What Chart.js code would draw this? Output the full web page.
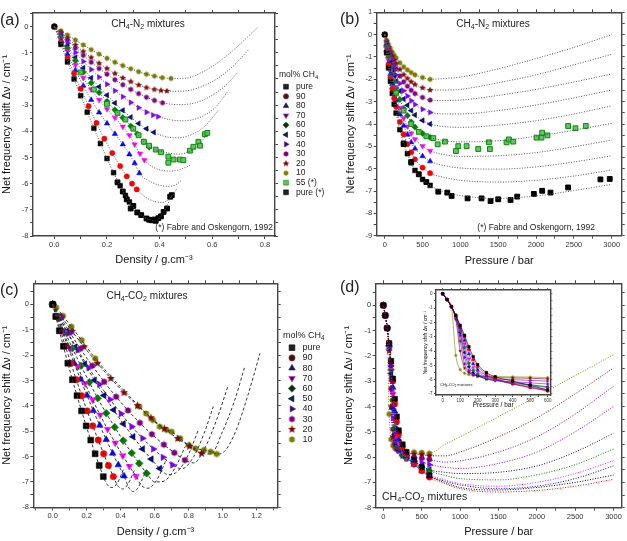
<!DOCTYPE html>
<html>
<head>
<meta charset="utf-8">
<script src="https://cdn.jsdelivr.net/npm/chart.js@4/dist/chart.umd.min.js"></script>
<style>
body { margin:0; background:#fff; width:627px; height:541px; position:relative; overflow:hidden; font-family:"Liberation Sans", Arial, sans-serif; }
canvas { position:absolute; }
.t { position:absolute; white-space:nowrap; line-height:1; color:#222; }
sub { font-size:70%; vertical-align:-0.25em; line-height:0; }
</style>
</head>
<body>
<canvas id="ca" width="340" height="269" style="left:0;top:0"></canvas>
<canvas id="cb" width="283" height="270" style="left:344px;top:0"></canvas>
<canvas id="cc" width="340" height="271" style="left:0;top:270px"></canvas>
<canvas id="cd" width="285" height="271" style="left:342px;top:270px"></canvas>
<canvas id="ce" width="130" height="125" style="left:423px;top:286px"></canvas>

<div class="t" style="left:0;top:12px;font-size:16px">(a)</div>
<div class="t" style="left:340px;top:11px;font-size:16px">(b)</div>
<div class="t" style="left:0;top:282px;font-size:16px">(c)</div>
<div class="t" style="left:340px;top:279px;font-size:16px">(d)</div>
<div class="t" style="left:148px;top:19px;font-size:10px;transform:translateX(-50%)">CH<sub>4</sub>-N<sub>2</sub> mixtures</div>
<div class="t" style="left:493px;top:19px;font-size:10px;transform:translateX(-50%)">CH<sub>4</sub>-N<sub>2</sub> mixtures</div>
<div class="t" style="left:147px;top:291px;font-size:10px;transform:translateX(-50%)">CH<sub>4</sub>-CO<sub>2</sub> mixtures</div>
<div class="t" style="left:382px;top:491px;font-size:10.5px">CH<sub>4</sub>-CO<sub>2</sub> mixtures</div>
<div class="t" style="left:273px;top:223px;font-size:8.5px;transform:translateX(-100%)">(*) Fabre and Oskengorn, 1992</div>
<div class="t" style="left:595px;top:223px;font-size:8.5px;transform:translateX(-100%)">(*) Fabre and Oskengorn, 1992</div>
<div class="t" style="left:440px;top:383px;font-size:4px">CH<sub>4</sub>-CO<sub>2</sub> mixtures</div>

<script>
const FONT = '"Liberation Sans", Arial, sans-serif';
Chart.defaults.font.family = FONT;
Chart.defaults.color = '#333';

// series: pure CH4 then mol% CH4
const mixLabels = ['pure', '90', '80', '70', '60', '50', '40', '30', '20', '10'];
const mixColors = ['#000000', '#ff0000', '#0000ff', '#ff00ff', '#008000', '#000080', '#8000ff', '#800080', '#800000', '#808000'];
const mixShapes = ['rect', 'circle', 'triangle', 'triangleDown', 'rectRot', 'triangleLeft', 'triangleRight', 'hex', 'star', 'hex'];

// ---------- (a) CH4-N2, shift vs density [density, shift] ----------
const aPure = [[0,0],[0.025,-0.68],[0.05,-1.35],[0.075,-2.0],[0.1,-2.64],[0.125,-3.27],[0.15,-3.88],[0.175,-4.47],[0.2,-5.04],[0.225,-5.58],[0.25,-6.08],[0.27,-6.45],[0.285,-6.7]];
const a90 = [[0,0],[0.025,-0.6],[0.05,-1.2],[0.075,-1.79],[0.1,-2.37],[0.13,-3.04],[0.16,-3.68],[0.19,-4.28],[0.22,-4.83],[0.25,-5.33],[0.275,-5.72],[0.295,-6.0],[0.313,-6.22]];
const a80 = [[0,0],[0.025,-0.53],[0.05,-1.06],[0.08,-1.67],[0.11,-2.26],[0.14,-2.8],[0.17,-3.28],[0.2,-3.7],[0.23,-4.1],[0.26,-4.5],[0.285,-4.88],[0.305,-5.22],[0.323,-5.6]];
const a70 = [[0,0],[0.025,-0.47],[0.05,-0.93],[0.08,-1.46],[0.11,-1.96],[0.14,-2.4],[0.17,-2.8],[0.2,-3.15],[0.23,-3.48],[0.26,-3.82],[0.285,-4.15],[0.305,-4.5],[0.325,-4.85],[0.342,-5.1]];
const a60 = [[0,0],[0.025,-0.42],[0.05,-0.83],[0.08,-1.3],[0.11,-1.74],[0.14,-2.15],[0.17,-2.52],[0.2,-2.86],[0.23,-3.18],[0.26,-3.48],[0.29,-3.8],[0.315,-4.1],[0.34,-4.4],[0.36,-4.6]];
const a50 = [[0,0],[0.025,-0.38],[0.05,-0.75],[0.08,-1.18],[0.11,-1.58],[0.14,-1.96],[0.17,-2.3],[0.2,-2.62],[0.23,-2.92],[0.26,-3.2],[0.29,-3.46],[0.32,-3.7],[0.35,-3.9],[0.378,-4.04]];
const a40 = [[0,0],[0.025,-0.32],[0.05,-0.63],[0.08,-0.99],[0.11,-1.33],[0.14,-1.64],[0.17,-1.93],[0.2,-2.2],[0.23,-2.45],[0.26,-2.68],[0.29,-2.9],[0.32,-3.1],[0.35,-3.27],[0.375,-3.38],[0.394,-3.44]];
const a30 = [[0,0],[0.025,-0.26],[0.05,-0.52],[0.08,-0.82],[0.11,-1.1],[0.14,-1.36],[0.17,-1.6],[0.2,-1.82],[0.23,-2.03],[0.26,-2.22],[0.29,-2.4],[0.32,-2.56],[0.35,-2.7],[0.38,-2.82],[0.411,-2.91]];
const a20 = [[0,0],[0.025,-0.22],[0.05,-0.44],[0.08,-0.7],[0.11,-0.95],[0.14,-1.18],[0.17,-1.4],[0.2,-1.6],[0.23,-1.79],[0.26,-1.96],[0.29,-2.1],[0.32,-2.23],[0.35,-2.33],[0.38,-2.4],[0.405,-2.44],[0.427,-2.46]];
const a10 = [[0,0],[0.025,-0.16],[0.05,-0.32],[0.08,-0.51],[0.11,-0.7],[0.14,-0.88],[0.17,-1.05],[0.2,-1.21],[0.23,-1.36],[0.26,-1.49],[0.29,-1.61],[0.32,-1.72],[0.35,-1.82],[0.38,-1.89],[0.41,-1.95],[0.443,-1.98]];
// fitted curves beyond the data
const aTailPure = [[0.33,-7.2],[0.385,-7.42],[0.42,-7.0],[0.446,-6.44]];
const aTail90 = [[0.36,-6.6],[0.41,-6.72],[0.44,-6.55],[0.465,-6.2]];
const aTail80 = [[0.37,-5.95],[0.43,-6.1],[0.46,-6.05],[0.48,-5.9]];
const aTail70 = [[0.38,-5.4],[0.44,-5.52],[0.48,-5.45],[0.515,-5.3]];
const aTail60 = [[0.42,-4.8],[0.47,-4.87],[0.52,-4.74],[0.555,-4.45],[0.585,-3.98]];
const aTail50 = [[0.42,-4.2],[0.47,-4.25],[0.52,-4.13],[0.57,-3.82],[0.623,-3.19]];
const aTail40 = [[0.44,-3.56],[0.49,-3.6],[0.55,-3.48],[0.61,-3.1],[0.661,-2.45]];
const aTail30 = [[0.47,-2.98],[0.54,-2.9],[0.6,-2.62],[0.65,-2.25],[0.696,-1.76]];
const aTail20 = [[0.48,-2.47],[0.55,-2.33],[0.62,-1.98],[0.68,-1.5],[0.737,-0.89]];
const aTail10 = [[0.5,-1.97],[0.553,-1.78],[0.6,-1.52],[0.68,-0.9],[0.775,0.0]];
// Fabre and Oskengorn, 1992
const aFab55 = [[0.1,-1.75],[0.15,-2.4],[0.2,-2.95],[0.24,-3.3],[0.27,-3.55],[0.3,-3.9],[0.32,-4.15],[0.34,-4.4],[0.36,-4.55],[0.385,-4.7],[0.405,-4.8],[0.433,-4.97],[0.433,-5.2],[0.453,-5.08],[0.477,-5.08],[0.49,-5.1],[0.515,-4.74],[0.528,-4.59],[0.547,-4.4],[0.553,-4.55],[0.572,-4.11],[0.581,-4.06]];
const aFabPure = [[0.24,-5.95],[0.26,-6.3],[0.275,-6.6],[0.29,-6.95],[0.3,-6.85],[0.315,-7.1],[0.33,-7.2],[0.35,-7.33],[0.36,-7.38],[0.37,-7.4],[0.38,-7.37],[0.385,-7.42],[0.395,-7.32],[0.405,-7.25],[0.415,-7.08],[0.428,-6.95],[0.44,-6.5],[0.446,-6.44]];

// ---------- (b) CH4-N2, shift vs pressure ----------
const bP = [0, 25, 50, 75, 100, 125, 150, 200, 250, 300, 350, 400, 500, 600];
const bPure = [0,-0.81,-1.49,-2.09,-2.63,-3.11,-3.51,-4.25,-4.86,-5.33,-5.74,-6.08,-6.48,-6.75];
const b90 = [0,-0.74,-1.36,-1.92,-2.42,-2.85,-3.22,-3.91,-4.46,-4.90,-5.27,-5.58,-5.95,-6.2];
const b80 = [0,-0.68,-1.25,-1.76,-2.21,-2.61,-2.95,-3.57,-4.08,-4.48,-4.82,-5.10,-5.44,-5.67];
const b70 = [0,-0.62,-1.14,-1.61,-2.03,-2.39,-2.70,-3.28,-3.74,-4.11,-4.42,-4.68,-4.99,-5.2];
const b60 = [0,-0.55,-1.01,-1.43,-1.79,-2.12,-2.39,-2.90,-3.31,-3.63,-3.91,-4.14,-4.42,-4.6];
const b50 = [0,-0.48,-0.88,-1.24,-1.56,-1.84,-2.08,-2.52,-2.88,-3.16,-3.40,-3.60,-3.84,-4.0];
const b40 = [0,-0.42,-0.77,-1.08,-1.36,-1.60,-1.81,-2.19,-2.51,-2.75,-2.96,-3.13,-3.34,-3.48];
const b30 = [0,-0.35,-0.64,-0.91,-1.14,-1.35,-1.52,-1.85,-2.11,-2.31,-2.49,-2.64,-2.81,-2.93];
const b20 = [0,-0.30,-0.55,-0.77,-0.97,-1.14,-1.29,-1.56,-1.79,-1.96,-2.11,-2.23,-2.38,-2.48];
const b10 = [0,-0.24,-0.44,-0.62,-0.78,-0.92,-1.04,-1.26,-1.44,-1.58,-1.70,-1.80,-1.92,-2.0];
const bTailP = [800, 1000, 1500, 2000, 2500, 3000];
const bTailPure = [-7.05,-7.2,-7.33,-7.22,-6.98,-6.7];
const bTail90 = [-6.4,-6.52,-6.6,-6.52,-6.33,-6.06];
const bTail80 = [-5.87,-5.97,-6.02,-5.92,-5.7,-5.42];
const bTail70 = [-5.38,-5.45,-5.42,-5.28,-5.02,-4.72];
const bTail60 = [-4.75,-4.8,-4.75,-4.55,-4.28,-3.97];
const bTail50 = [-4.12,-4.15,-4.05,-3.85,-3.55,-3.19];
const bTail40 = [-3.55,-3.55,-3.4,-3.15,-2.83,-2.48];
const bTail30 = [-2.95,-2.93,-2.72,-2.45,-2.12,-1.76];
const bTail20 = [-2.48,-2.45,-2.15,-1.8,-1.35,-0.88];
const bTail10 = [-1.96,-1.9,-1.53,-1.07,-0.57,0.0];
const bFab55 = [[150,-2.6],[250,-3.4],[350,-4.0],[450,-4.35],[550,-4.55],[642,-4.63],[700,-4.91],[796,-4.79],[941,-5.21],[972,-4.99],[1082,-4.99],[1236,-5.12],[1377,-4.82],[1390,-5.12],[1610,-4.82],[1641,-4.69],[1698,-4.79],[2006,-4.61],[2072,-4.61],[2081,-4.39],[2151,-4.51],[2424,-4.09],[2521,-4.19],[2657,-4.09]];
const bFabPure = [[250,-4.9],[350,-5.7],[450,-6.25],[550,-6.6],[708,-7.03],[827,-7.07],[884,-7.22],[1095,-7.33],[1280,-7.33],[1399,-7.45],[1500,-7.37],[1663,-7.4],[1751,-7.25],[1971,-7.13],[2081,-6.99],[2191,-7.07],[2424,-6.84],[2851,-6.48],[2974,-6.46]];

// ---------- (c) CH4-CO2, shift vs density ----------
const cPureX = [0,0.018,0.039,0.063,0.089,0.116,0.143,0.170,0.197,0.224,0.250,0.274,0.298];
const cPureY = [0,-0.48,-1.04,-1.65,-2.32,-2.97,-3.60,-4.20,-4.79,-5.35,-5.89,-6.35,-6.79];
const c90X = [0,0.021,0.046,0.075,0.107,0.139,0.171,0.203,0.236,0.268,0.300,0.328,0.357];
const c90Y = [0,-0.48,-1.04,-1.65,-2.32,-2.97,-3.60,-4.20,-4.79,-5.35,-5.89,-6.35,-6.79];
const c80X = [0,0.025,0.055,0.088,0.126,0.164,0.202,0.239,0.277,0.315,0.353,0.386,0.42];
const c80Y = [0,-0.48,-1.03,-1.65,-2.32,-2.96,-3.59,-4.19,-4.77,-5.33,-5.87,-6.33,-6.77];
const c70X = [0,0.029,0.064,0.103,0.147,0.191,0.235,0.279,0.323,0.368,0.412,0.451,0.49];
const c70Y = [0,-0.52,-1.11,-1.76,-2.46,-3.12,-3.76,-4.36,-4.92,-5.46,-5.96,-6.38,-6.77];
const c60X = [0,0.033,0.072,0.116,0.166,0.216,0.265,0.315,0.365,0.415,0.465,0.509,0.553];
const c60Y = [0,-0.51,-1.09,-1.73,-2.42,-3.07,-3.70,-4.29,-4.84,-5.37,-5.86,-6.27,-6.66];
const c50X = [0,0.038,0.082,0.132,0.189,0.246,0.302,0.359,0.416,0.473,0.529,0.580,0.63];
const c50Y = [0,-0.50,-1.06,-1.68,-2.35,-2.99,-3.59,-4.16,-4.71,-5.22,-5.70,-6.10,-6.47];
const c40X = [0,0.042,0.092,0.148,0.212,0.275,0.338,0.402,0.465,0.529,0.592,0.649,0.705];
const c40Y = [0,-0.54,-1.15,-1.80,-2.50,-3.15,-3.75,-4.31,-4.82,-5.28,-5.70,-6.03,-6.33];
const c30X = [0,0.047,0.101,0.163,0.233,0.303,0.373,0.443,0.513,0.584,0.654,0.716,0.778];
const c30Y = [0,-0.52,-1.11,-1.75,-2.42,-3.05,-3.64,-4.18,-4.67,-5.12,-5.53,-5.85,-6.14];
const c20X = [0,0.053,0.114,0.184,0.263,0.342,0.420,0.499,0.578,0.657,0.736,0.806,0.876];
const c20Y = [0,-0.50,-1.06,-1.67,-2.32,-2.92,-3.48,-3.99,-4.47,-4.90,-5.29,-5.59,-5.87];
const c10X = [0,0.02,0.06,0.11,0.17,0.25,0.51,0.55,0.59,0.63,0.67,0.7,0.75,0.8,0.84,0.89,0.93,0.965];
const c10Y = [0,-0.12,-0.45,-0.88,-1.41,-2.13,-4.03,-4.3,-4.56,-4.82,-4.95,-5.02,-5.28,-5.55,-5.68,-5.74,-5.81,-5.9];
const cTailPure = [[0.32,-7.1],[0.35,-7.22],[0.38,-7.05],[0.42,-6.45]];
const cTail90 = [[0.38,-7.12],[0.41,-7.28],[0.44,-7.12],[0.48,-6.55]];
const cTail80 = [[0.45,-7.25],[0.475,-7.38],[0.5,-7.25],[0.55,-6.55]];
const cTail70 = [[0.52,-7.12],[0.56,-7.25],[0.61,-6.95],[0.67,-6.1]];
const cTail60 = [[0.6,-7.0],[0.65,-6.98],[0.72,-6.45],[0.78,-5.6]];
const cTail50 = [[0.68,-6.72],[0.74,-6.55],[0.8,-5.9],[0.857,-4.95]];
const cTail40 = [[0.76,-6.48],[0.83,-6.0],[0.89,-5.1],[0.945,-4.03]];
const cTail30 = [[0.83,-6.25],[0.9,-5.6],[0.97,-4.45],[1.03,-3.25]];
const cTail20 = [[0.93,-5.9],[1.0,-5.0],[1.07,-3.8],[1.13,-2.46]];
const cTail10 = [[1.01,-5.8],[1.08,-4.95],[1.15,-3.55],[1.22,-1.93]];

// ---------- (d) CH4-CO2, shift vs pressure ----------
const dP = [0, 25, 50, 75, 100, 125, 150, 175, 200, 250, 300, 400, 500, 600];
const dPure = [0,-0.4,-0.9,-1.5,-2.2,-2.9,-3.7,-4.4,-4.95,-5.5,-5.8,-6.1,-6.4,-6.72];
const d90 = [0,-0.4,-0.9,-1.5,-2.25,-3.0,-3.9,-4.6,-5.1,-5.6,-5.9,-6.25,-6.55,-6.8];
const d80 = [0,-0.4,-0.9,-1.55,-2.35,-3.25,-4.2,-4.9,-5.3,-5.7,-5.95,-6.3,-6.55,-6.75];
const d70 = [0,-0.4,-0.9,-1.55,-2.45,-3.5,-4.55,-5.15,-5.45,-5.8,-6.0,-6.3,-6.5,-6.7];
const d60 = [0,-0.4,-0.9,-1.6,-2.55,-3.75,-4.85,-5.35,-5.6,-5.9,-6.05,-6.25,-6.4,-6.55];
const d50 = [0,-0.4,-0.9,-1.6,-2.7,-4.1,-5.1,-5.5,-5.7,-5.95,-6.05,-6.2,-6.35,-6.5];
const d40 = [0,-0.4,-0.9,-1.65,-2.9,-4.45,-5.35,-5.6,-5.75,-5.95,-6.05,-6.15,-6.22,-6.3];
const d30 = [0,-0.4,-0.9,-1.7,-3.3,-4.9,-5.45,-5.65,-5.75,-5.85,-5.95,-6.0,-6.05,-6.1];
const d20 = [0,-0.4,-0.9,-1.8,-4.0,-5.2,-5.5,-5.65,-5.72,-5.8,-5.85,-5.88,-5.9,-5.95];
const d10 = [0,-0.4,-0.9,-4.3,-5.3,-5.55,-5.65,-5.7,-5.72,-5.75,-5.78,-5.8,-5.82,-5.85];
const dTailP = [800, 1000, 1500, 2000, 2500, 3000];
const dTailPure = [-7.0,-7.2,-7.3,-7.2,-7.0,-6.71];
const dTail90 = [-7.05,-7.25,-7.38,-7.32,-7.15,-6.88];
const dTail80 = [-6.95,-7.1,-7.25,-7.15,-6.85,-6.35];
const dTail70 = [-6.9,-7.05,-7.15,-7.0,-6.65,-6.14];
const dTail60 = [-6.72,-6.85,-6.9,-6.7,-6.3,-5.68];
const dTail50 = [-6.6,-6.65,-6.6,-6.35,-5.8,-5.06];
const dTail40 = [-6.4,-6.45,-6.25,-5.8,-5.0,-4.0];
const dTail30 = [-6.2,-6.15,-5.8,-5.2,-4.3,-3.2];
const dTail20 = [-5.95,-5.8,-5.2,-4.45,-3.5,-2.48];
const dTail10 = [-5.5,-5.2,-4.4,-3.6,-2.78,-1.95];

// ---------- helpers ----------
const xy = (xs, ys) => xs.map((x, i) => ({x: x, y: ys[i]}));
const pr = arr => arr.map(p => ({x: p[0], y: p[1]}));

function makeImg(kind, r, color) {
    const s = Math.ceil(r * 2 + 2);
    const cv = document.createElement('canvas');
    cv.width = s; cv.height = s;
    const g = cv.getContext('2d');
    const c = s / 2;
    g.fillStyle = color;
    g.beginPath();
    if (kind === 'hex') {
        for (let k = 0; k < 6; k++) {
            const a = Math.PI / 3 * k + Math.PI / 6;
            g.lineTo(c + r * Math.cos(a), c + r * Math.sin(a));
        }
    } else {
        for (let k = 0; k < 10; k++) {
            const a = -Math.PI / 2 + Math.PI / 5 * k;
            const rr = k % 2 ? r * 0.45 : r;
            g.lineTo(c + rr * Math.cos(a), c + rr * Math.sin(a));
        }
    }
    g.closePath();
    g.fill();
    return cv;
}

function pointOpts(shape, r, color) {
    switch (shape) {
        case 'rect': return {style: 'rect', rot: 0, radius: r * 1.3};
        case 'circle': return {style: 'circle', rot: 0, radius: r};
        case 'triangle': return {style: 'triangle', rot: 0, radius: r * 1.2};
        case 'triangleDown': return {style: 'triangle', rot: 180, radius: r * 1.2};
        case 'triangleLeft': return {style: 'triangle', rot: 270, radius: r * 1.2};
        case 'triangleRight': return {style: 'triangle', rot: 90, radius: r * 1.2};
        case 'rectRot': return {style: 'rectRot', rot: 0, radius: r * 1.2};
        case 'hex': return {style: makeImg('hex', r * 1.05, color), rot: 0, radius: r};
        case 'star': return {style: makeImg('star', r * 1.35, color), rot: 0, radius: r};
    }
}

function marks(points, i, r, extra) {
    const p = pointOpts(mixShapes[i], r, mixColors[i]);
    return Object.assign({
        data: points, showLine: false,
        pointStyle: p.style, pointRotation: p.rot, pointRadius: p.radius,
        pointBackgroundColor: mixColors[i], pointBorderColor: mixColors[i], pointBorderWidth: 0.5
    }, extra || {});
}

function fitLine(points, color, dash, width) {
    return {
        data: points, showLine: true, pointRadius: 0, borderColor: color,
        borderWidth: width, borderDash: dash, cubicInterpolationMode: 'monotone', fill: false
    };
}

// tick marks every `step` from the first multiple above min (Chart.js would otherwise
// spread them evenly between min and max when the range is nearly a whole number of steps)
function stepTicks(min, max, step) {
    return s => {
        const t = [];
        for (let k = Math.ceil(min / step - 1e-9); k * step <= max + 1e-9; k++) {
            t.push({value: Math.round(k * step * 1e6) / 1e6});
        }
        s.ticks = t;
    };
}

function axes(c) {
    const grid = {drawOnChartArea: false, tickLength: c.tl, tickColor: '#444', tickWidth: 1};
    const border = {color: '#444', width: 1.4};
    const lab = (maj, fmt) => v => Math.abs(v / maj - Math.round(v / maj)) < 1e-6 ? fmt(v) : '';
    const tk = (maj, fmt) => ({
        autoSkip: false, maxRotation: 0, font: {size: c.tf}, color: '#333', padding: 1.5, callback: lab(maj, fmt)
    });
    return {
        x: {type: 'linear', position: 'bottom', min: c.x[0], max: c.x[1], grid: grid, border: border,
            ticks: tk(c.x[3], c.xf), afterBuildTicks: stepTicks(c.x[0], c.x[1], c.x[2]),
            title: {display: true, text: c.xt, font: {size: c.ttf}, color: '#111', padding: {top: 0, bottom: 2}},
            afterFit: s => { s.height = c.xh; }},
        x2: {type: 'linear', position: 'top', min: c.x[0], max: c.x[1], grid: grid, border: border,
            ticks: {display: false}, afterBuildTicks: stepTicks(c.x[0], c.x[1], c.x[2]),
            afterFit: s => { s.height = 0; }},
        y: {type: 'linear', position: 'left', min: c.y[0], max: c.y[1], grid: grid, border: border,
            ticks: tk(c.y[3], v => String(Math.round(v))), afterBuildTicks: stepTicks(c.y[0], c.y[1], c.y[2]),
            title: {display: true, text: c.yt, font: {size: c.tty || c.ttf}, color: '#111', padding: {top: 0, bottom: 0}},
            afterFit: s => { s.width = c.yw; }},
        y2: {type: 'linear', position: 'right', min: c.y[0], max: c.y[1], grid: grid, border: border,
            ticks: {display: false}, afterBuildTicks: stepTicks(c.y[0], c.y[1], c.y[2]),
            afterFit: s => { s.width = 0; }}
    };
}

const sideLegend = {
    id: 'sideLegend',
    afterDraw(chart, args, o) {
        if (!o || !o.items) return;
        const ctx = chart.ctx;
        ctx.save();
        ctx.textBaseline = 'middle';
        ctx.fillStyle = '#222';
        ctx.font = o.size + 'px ' + FONT;
        ctx.fillText('mol% CH', o.x, o.y);
        const w = ctx.measureText('mol% CH').width;
        ctx.font = (o.size * 0.7) + 'px ' + FONT;
        ctx.fillText('4', o.x + w, o.y + o.size * 0.3);
        ctx.font = o.size + 'px ' + FONT;
        o.items.forEach((it, i) => {
            const y = o.y0 + i * o.dy;
            const p = pointOpts(it.shape, o.r, it.color);
            ctx.fillStyle = it.fill || it.color;
            ctx.strokeStyle = it.color;
            ctx.lineWidth = 0.6;
            Chart.helpers.drawPoint(ctx, {pointStyle: p.style, rotation: p.rot, radius: p.radius, borderWidth: 0.6}, o.mx, y);
            ctx.fillStyle = '#222';
            ctx.fillText(it.label, o.tx, y);
        });
        ctx.restore();
    }
};

const insetBg = {
    id: 'insetBg',
    beforeDraw(chart, args, o) {
        if (!o || !o.on) return;
        const ctx = chart.ctx;
        ctx.save();
        ctx.fillStyle = '#fff';
        ctx.fillRect(0, 0, chart.width, chart.chartArea.bottom + 1);
        ctx.restore();
    }
};
Chart.register(sideLegend, insetBg);

function panel(id, datasets, ax, pad, plugins) {
    return new Chart(document.getElementById(id), {
        type: 'scatter',
        data: {datasets: datasets},
        options: {
            responsive: false, animation: false, events: [], devicePixelRatio: 1,
            layout: {autoPadding: false, padding: pad},
            scales: ax,
            plugins: Object.assign({legend: {display: false}, tooltip: {enabled: false}}, plugins || {})
        }
    });
}

const legendItems = mixLabels.map((l, i) => ({label: l, shape: mixShapes[i], color: mixColors[i]}));
const YT = 'Net frequency shift \u0394\u03bd / cm\u207b\u00b9';
const DOT = [1, 1.6];

// ---------- (a) ----------
const aData = [aPure, a90, a80, a70, a60, a50, a40, a30, a20, a10];
const aTails = [aTailPure, aTail90, aTail80, aTail70, aTail60, aTail50, aTail40, aTail30, aTail20, aTail10];
const aSets = aData.map((d, i) => fitLine(pr(d.concat(aTails[i])), '#555', DOT, 1))
    .concat([
        {data: pr(aFab55), pointStyle: 'rect', pointRadius: 3.4, pointBackgroundColor: '#66c266', pointBorderColor: '#0a8a0a', pointBorderWidth: 1},
        {data: pr(aFabPure), pointStyle: 'rect', pointRadius: 3.4, pointBackgroundColor: '#000', pointBorderColor: '#000'}
    ])
    .concat(aData.map((d, i) => marks(pr(d), i, 2.6)));
panel('ca', aSets, axes({
    x: [-0.081, 0.838, 0.1, 0.2], xf: v => v.toFixed(1), xt: 'Density / g.cm\u207b\u00b3',
    y: [-8, 0.52, 0.5, 1], yt: YT, tf: 7.5, ttf: 11, tl: 3, xh: 33, yw: 33
}), {left: 0, right: 65, top: 13, bottom: 0}, {
    sideLegend: {x: 279, y: 75, y0: 86.7, dy: 9.6, mx: 286, tx: 296, size: 8.5, r: 2.6,
        items: legendItems.concat([
            {label: '55 (*)', shape: 'rect', color: '#0a8a0a', fill: '#66c266'},
            {label: 'pure (*)', shape: 'rect', color: '#000000'}
        ])}
});

// ---------- (b) ----------
const bData = [bPure, b90, b80, b70, b60, b50, b40, b30, b20, b10];
const bTails = [bTailPure, bTail90, bTail80, bTail70, bTail60, bTail50, bTail40, bTail30, bTail20, bTail10];
const bSets = bData.map((d, i) => fitLine(xy(bP.concat(bTailP), d.concat(bTails[i])), '#555', DOT, 1))
    .concat([
        {data: pr(bFab55), pointStyle: 'rect', pointRadius: 3.4, pointBackgroundColor: '#66c266', pointBorderColor: '#0a8a0a', pointBorderWidth: 1},
        {data: pr(bFabPure), pointStyle: 'rect', pointRadius: 3.4, pointBackgroundColor: '#000', pointBorderColor: '#000'}
    ])
    .concat(bData.map((d, i) => marks(xy(bP, d), i, 2.6)));
panel('cb', bSets, axes({
    x: [-106, 3132, 250, 500], xf: v => String(v), xt: 'Pressure / bar',
    y: [-9, 1, 0.5, 1], yt: YT, tf: 7.5, ttf: 11, tl: 3, xh: 34.3, yw: 32.7
}), {left: 0, right: 5.3, top: 12.3, bottom: 0});

// ---------- (c) ----------
const cData = [xy(cPureX, cPureY), xy(c90X, c90Y), xy(c80X, c80Y), xy(c70X, c70Y), xy(c60X, c60Y),
    xy(c50X, c50Y), xy(c40X, c40Y), xy(c30X, c30Y), xy(c20X, c20Y), xy(c10X, c10Y)];
const cTails = [cTailPure, cTail90, cTail80, cTail70, cTail60, cTail50, cTail40, cTail30, cTail20, cTail10];
const cSets = cData.map((d, i) => fitLine(d.concat(pr(cTails[i])), '#333', [3, 2.2], 1))
    .concat(cData.map((d, i) => marks(d, i, 3.2)));
panel('cc', cSets, axes({
    x: [-0.114, 1.324, 0.1, 0.2], xf: v => v.toFixed(1), xt: 'Density / g.cm\u207b\u00b3',
    y: [-8, 0.83, 0.5, 1], yt: YT, tf: 7.5, ttf: 11, tl: 3, xh: 33.7, yw: 33.3
}), {left: 0, right: 62.3, top: 13.3, bottom: 0}, {
    sideLegend: {x: 283, y: 66, y0: 77.7, dy: 10.2, mx: 292, tx: 302.5, size: 9, r: 3.1, items: legendItems}
});

// ---------- (d) ----------
const dData = [dPure, d90, d80, d70, d60, d50, d40, d30, d20, d10];
const dTails = [dTailPure, dTail90, dTail80, dTail70, dTail60, dTail50, dTail40, dTail30, dTail20, dTail10];
const dSets = dData.map((d, i) => fitLine(xy(dP.concat(dTailP), d.concat(dTails[i])), mixColors[i], DOT, 1))
    .concat(dData.map((d, i) => marks(xy(dP, d), i, 2.9)));
panel('cd', dSets, axes({
    x: [-100, 3107, 250, 500], xf: v => String(v), xt: 'Pressure / bar',
    y: [-8, 0.87, 0.5, 1], yt: YT, tf: 7.5, ttf: 11, tl: 3, xh: 33.3, yw: 33.7
}), {left: 0, right: 5.3, top: 13.3, bottom: 0});

// ---------- (d) inset, 0-600 bar ----------
const eSets = dData.map((d, i) => marks(xy(dP, d), i, 1.4, {
    showLine: true, borderColor: mixColors[i], borderWidth: 0.6, cubicInterpolationMode: 'monotone'
}));
panel('ce', eSets, axes({
    x: [-38, 615, 50, 100], xf: v => String(v), xt: 'Pressure / bar',
    y: [-7.07, 0.25, 0.5, 1], yt: YT, tf: 4.5, ttf: 6.5, tty: 5, tl: 2, xh: 16, yw: 13
}), {left: 0, right: 2, top: 2, bottom: 0}, {insetBg: {on: true}});
</script>
</body>
</html>
